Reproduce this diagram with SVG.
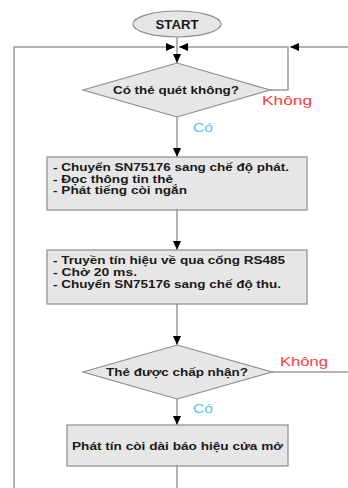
<svg xmlns="http://www.w3.org/2000/svg" width="348" height="488" viewBox="0 0 348 488">
<defs>
<marker id="arr" markerUnits="userSpaceOnUse" markerWidth="10" markerHeight="8" refX="9" refY="4" orient="auto">
<path d="M0,0 L9,4 L0,8 Z" fill="#000"/>
</marker>
<style>
.shape{fill:#e6e6e6;stroke:#8c8c8c;stroke-width:1.2}
.conn{fill:none;stroke:#9a9a9a;stroke-width:1.5}
.t{font-family:"Liberation Sans",Arial,sans-serif;font-weight:bold;font-size:10.5px;fill:#1a1a1a}
.no{font-family:"Liberation Sans",Arial,sans-serif;font-size:13px;fill:#ff3b3b}
.yes{font-family:"Liberation Sans",Arial,sans-serif;font-size:13px;fill:#52c3ee}
</style>
</defs>
<rect width="348" height="488" fill="#fff"/>
<g id="connectors">
<path class="conn" d="M14,488 V47 H175" marker-end="url(#arr)"/>
<path class="conn" d="M348,47 H290" marker-end="url(#arr)"/>
<path class="conn" d="M270,90 H288 V47 H179" marker-end="url(#arr)"/>
<path class="conn" d="M177,37 V63" marker-end="url(#arr)"/>
<path class="conn" d="M177,117 V157" marker-end="url(#arr)"/>
<path class="conn" d="M177,210 V250" marker-end="url(#arr)"/>
<path class="conn" d="M177,304 V345" marker-end="url(#arr)"/>
<path class="conn" d="M272,372 H348"/>
<path class="conn" d="M177,399 V425" marker-end="url(#arr)"/>
<path class="conn" d="M177,466 V488"/>
<text class="no" x="262" y="105" textLength="50" lengthAdjust="spacingAndGlyphs">Không</text>
<text class="yes" x="193" y="132" textLength="20" lengthAdjust="spacingAndGlyphs">Có</text>
<text class="no" x="280" y="366" textLength="48" lengthAdjust="spacingAndGlyphs">Không</text>
<text class="yes" x="193" y="413" textLength="20" lengthAdjust="spacingAndGlyphs">Có</text>
</g>
<g id="start">
<ellipse class="shape" cx="177" cy="24" rx="44" ry="13"/>
<text class="t" x="177" y="28.5" font-size="12" text-anchor="middle" textLength="43" lengthAdjust="spacingAndGlyphs" style="font-size:12px">START</text>
</g>
<g id="dec1">
<polygon class="shape" points="83,90 177,63 270,90 177,117"/>
<text class="t" x="113" y="94" textLength="126" lengthAdjust="spacingAndGlyphs">Có thẻ quét không?</text>
</g>
<g id="box1">
<rect class="shape" x="47" y="157" width="260" height="53"/>
<text class="t" x="53" y="171" textLength="236" lengthAdjust="spacingAndGlyphs">- Chuyển SN75176 sang chế độ phát.</text>
<text class="t" x="53" y="182.5" textLength="120" lengthAdjust="spacingAndGlyphs">- Đọc thông tin thẻ</text>
<text class="t" x="53" y="194" textLength="134" lengthAdjust="spacingAndGlyphs">- Phát tiếng còi ngắn</text>
</g>
<g id="box2">
<rect class="shape" x="47" y="250" width="260" height="54"/>
<text class="t" x="53" y="264" textLength="232" lengthAdjust="spacingAndGlyphs">- Truyền tín hiệu về qua cổng RS485</text>
<text class="t" x="53" y="276" textLength="84" lengthAdjust="spacingAndGlyphs">- Chờ 20 ms.</text>
<text class="t" x="53" y="288" textLength="228" lengthAdjust="spacingAndGlyphs">- Chuyển SN75176 sang chế độ thu.</text>
</g>
<g id="dec2">
<polygon class="shape" points="83,372 177,345 272,372 177,399"/>
<text class="t" x="106" y="376" textLength="142" lengthAdjust="spacingAndGlyphs">Thẻ được chấp nhận?</text>
</g>
<g id="box3">
<rect class="shape" x="67" y="425" width="221" height="41"/>
<text class="t" x="72" y="450" textLength="211" lengthAdjust="spacingAndGlyphs">Phát tín còi dài báo hiệu cửa mở</text>
</g>
</svg>
